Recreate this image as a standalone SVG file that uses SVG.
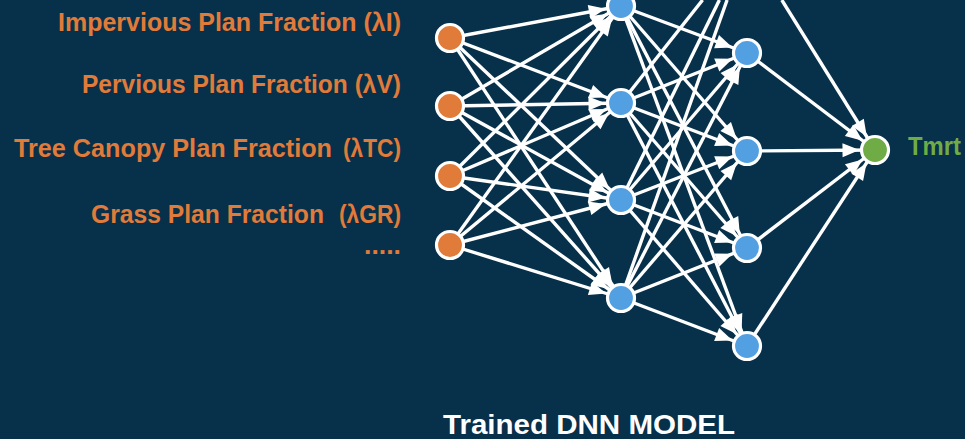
<svg xmlns="http://www.w3.org/2000/svg" width="965" height="439" viewBox="0 0 965 439">
  <defs>
    <marker id="arrow" markerUnits="userSpaceOnUse" markerWidth="34" markerHeight="14" refX="32.5" refY="7" orient="auto" overflow="visible">
      <path d="M0,0 L17,7 L0,14 z" fill="#ffffff"/>
    </marker>
    <style>
      .bg { fill: #07304a; }
      .edge { stroke: #ffffff; stroke-width: 3.4; fill: none; marker-end: url(#arrow); }
      .edge-open { stroke: #ffffff; stroke-width: 3.4; fill: none; }
      .node circle { stroke: #ffffff; stroke-width: 3.2; }
      .in circle { fill: #e07b39; }
      .hid circle { fill: #52a0e2; }
      .out circle { fill: #6fac46; }
      .label { font-family: "Liberation Sans", Arial, sans-serif; font-weight: bold; font-size: 25px; }
      .feat { fill: #e07b39; text-anchor: end; }
      .target { fill: #6fac46; }
      .title { fill: #ffffff; font-size: 28px; }
    </style>
  </defs>

  <rect class="bg" x="0" y="0" width="965" height="439"/>

  <!-- fully connected layers -->
  <g id="connectors">
    <!-- input layer -> hidden layer 1 -->
    <line class="edge" x1="450" y1="38" x2="621" y2="6"/>
    <line class="edge" x1="450" y1="38" x2="621" y2="103"/>
    <line class="edge" x1="450" y1="38" x2="621" y2="200"/>
    <line class="edge" x1="450" y1="38" x2="621" y2="298"/>
    <line class="edge" x1="450" y1="106" x2="621" y2="6"/>
    <line class="edge" x1="450" y1="106" x2="621" y2="103"/>
    <line class="edge" x1="450" y1="106" x2="621" y2="200"/>
    <line class="edge" x1="450" y1="106" x2="621" y2="298"/>
    <line class="edge" x1="450" y1="176" x2="621" y2="6"/>
    <line class="edge" x1="450" y1="176" x2="621" y2="103"/>
    <line class="edge" x1="450" y1="176" x2="621" y2="200"/>
    <line class="edge" x1="450" y1="176" x2="621" y2="298"/>
    <line class="edge" x1="450" y1="245" x2="621" y2="6"/>
    <line class="edge" x1="450" y1="245" x2="621" y2="103"/>
    <line class="edge" x1="450" y1="245" x2="621" y2="200"/>
    <line class="edge" x1="450" y1="245" x2="621" y2="298"/>

    <!-- hidden layer 1 -> hidden layer 2 -->
    <line class="edge" x1="621" y1="6" x2="747" y2="53"/>
    <line class="edge" x1="621" y1="6" x2="747" y2="151"/>
    <line class="edge" x1="621" y1="6" x2="747" y2="248"/>
    <line class="edge" x1="621" y1="6" x2="747" y2="346"/>
    <line class="edge" x1="621" y1="103" x2="747" y2="53"/>
    <line class="edge" x1="621" y1="103" x2="747" y2="151"/>
    <line class="edge" x1="621" y1="103" x2="747" y2="248"/>
    <line class="edge" x1="621" y1="103" x2="747" y2="346"/>
    <line class="edge" x1="621" y1="200" x2="747" y2="53"/>
    <line class="edge" x1="621" y1="200" x2="747" y2="151"/>
    <line class="edge" x1="621" y1="200" x2="747" y2="248"/>
    <line class="edge" x1="621" y1="200" x2="747" y2="346"/>
    <line class="edge" x1="621" y1="298" x2="747" y2="53"/>
    <line class="edge" x1="621" y1="298" x2="747" y2="151"/>
    <line class="edge" x1="621" y1="298" x2="747" y2="248"/>
    <line class="edge" x1="621" y1="298" x2="747" y2="346"/>
    <!-- edges running up past the top edge -->
    <line class="edge-open" x1="621" y1="6" x2="633.2" y2="0"/>
    <line class="edge-open" x1="621" y1="103" x2="702.6" y2="0"/>
    <line class="edge-open" x1="621" y1="200" x2="719.4" y2="0"/>
    <line class="edge-open" x1="621" y1="298" x2="727.1" y2="0"/>

    <!-- hidden layer 2 -> output -->
    <line class="edge" x1="781.8" y1="0" x2="875" y2="150"/>
    <line class="edge" x1="747" y1="53" x2="875" y2="150"/>
    <line class="edge" x1="747" y1="151" x2="875" y2="150"/>
    <line class="edge" x1="747" y1="248" x2="875" y2="150"/>
    <line class="edge" x1="747" y1="346" x2="875" y2="150"/>
  </g>

  <!-- input layer -->
  <g id="in1" class="node in"><circle cx="450" cy="38" r="13.5"/></g>
  <g id="in2" class="node in"><circle cx="450" cy="106" r="13.5"/></g>
  <g id="in3" class="node in"><circle cx="450" cy="176" r="13.5"/></g>
  <g id="in4" class="node in"><circle cx="450" cy="245" r="13.5"/></g>

  <!-- hidden layer 1 -->
  <g id="h1a" class="node hid"><circle cx="621" cy="6" r="13.5"/></g>
  <g id="h1b" class="node hid"><circle cx="621" cy="103" r="13.5"/></g>
  <g id="h1c" class="node hid"><circle cx="621" cy="200" r="13.5"/></g>
  <g id="h1d" class="node hid"><circle cx="621" cy="298" r="13.5"/></g>

  <!-- hidden layer 2 -->
  <g id="h2a" class="node hid"><circle cx="747" cy="53" r="13.5"/></g>
  <g id="h2b" class="node hid"><circle cx="747" cy="151" r="13.5"/></g>
  <g id="h2c" class="node hid"><circle cx="747" cy="248" r="13.5"/></g>
  <g id="h2d" class="node hid"><circle cx="747" cy="346" r="13.5"/></g>

  <!-- output -->
  <g id="out" class="node out">
    <circle cx="875" cy="150" r="13.5"/>
    <text class="label target" x="908" y="155" textLength="53" lengthAdjust="spacingAndGlyphs">Tmrt</text>
  </g>

  <!-- input feature labels (symbol set apart with a wider gap on the last two) -->
  <g id="features" class="label feat">
    <text x="401" y="31" textLength="343" lengthAdjust="spacingAndGlyphs">Impervious Plan Fraction (λI)</text>
    <text x="401" y="93" textLength="319" lengthAdjust="spacingAndGlyphs">Pervious Plan Fraction (λV)</text>
    <text x="14" y="157" style="text-anchor:start" textLength="318" lengthAdjust="spacingAndGlyphs">Tree Canopy Plan Fraction</text>
    <text x="401" y="157" textLength="58" lengthAdjust="spacingAndGlyphs">(λTC)</text>
    <text x="91" y="223" style="text-anchor:start" textLength="233" lengthAdjust="spacingAndGlyphs">Grass Plan Fraction</text>
    <text x="401" y="223" textLength="62" lengthAdjust="spacingAndGlyphs">(λGR)</text>
    <text x="401" y="254" textLength="37" lengthAdjust="spacingAndGlyphs">.....</text>
  </g>

  <g id="caption">
    <text class="label title" x="443" y="434" textLength="292" lengthAdjust="spacingAndGlyphs">Trained DNN MODEL</text>
  </g>
</svg>
